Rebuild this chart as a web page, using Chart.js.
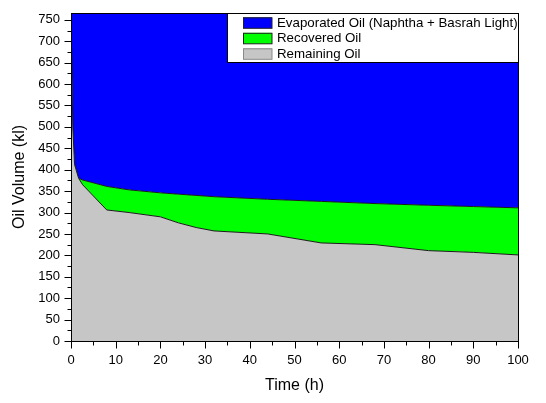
<!DOCTYPE html>
<html>
<head>
<meta charset="utf-8">
<script src="https://cdn.jsdelivr.net/npm/chart.js@4.4.1/dist/chart.umd.min.js"></script>
<style>
  html, body { margin: 0; padding: 0; background: #fff; }
  #wrap { width: 546px; height: 403px; }
</style>
</head>
<body>
<div id="wrap"><canvas id="oilChart" width="546" height="403"></canvas></div>
<script>
// values
const times      = [0, 0.4, 0.8, 1.7, 2.6, 8, 13, 20, 24, 28, 32, 44, 56, 68, 80, 90, 100];
const remaining  = [766, 500, 412, 380, 365, 306, 300, 290, 276, 265, 257, 250, 229, 225, 211, 207, 201];
const recovered  = [0, 0, 0, 0, 11, 55, 53, 56, 67, 75, 80, 81, 97, 96, 106, 107, 110];
const evaporated = [0, 266, 354, 386, 390, 405, 413, 420, 423, 426, 429, 435, 440, 445, 449, 452, 455];

const seriesNames = ["Remaining Oil", "Recovered Oil", "Evaporated Oil (Naphtha + Basrah Light)"];
const xTicks = [0, 10, 20, 30, 40, 50, 60, 70, 80, 90, 100];
const yTicks = [0, 50, 100, 150, 200, 250, 300, 350, 400, 450, 500, 550, 600, 650, 700, 750];
const yMax = 766;

const fillColors = ["#c6c6c6", "#00ff00", "#0000ff"];
const FONT = "'Liberation Sans', Arial, sans-serif";

function points(values) {
  return times.map((t, i) => ({ x: t, y: values[i] }));
}

// frame, outside major/minor ticks and the boxed legend
const decorations = {
  id: "decorations",
  afterDraw(chart) {
    const { ctx, chartArea: a, scales: { x, y } } = chart;
    const L = Math.round(a.left) + 0.5, R = Math.round(a.right) + 0.5;
    const T = Math.round(a.top) + 0.5, B = Math.round(a.bottom) + 0.5;
    ctx.save();
    ctx.strokeStyle = "#000";
    ctx.lineWidth = 1;
    ctx.strokeRect(L, T, R - L, B - T);

    ctx.beginPath();
    for (let v = 0; v <= 750; v += 25) {
      const py = Math.round(y.getPixelForValue(v)) + 0.5;
      ctx.moveTo(L, py);
      ctx.lineTo(L - (v % 50 === 0 ? 7 : 4), py);
    }
    for (let v = 0; v <= 100; v += 5) {
      const px = Math.round(x.getPixelForValue(v)) + 0.5;
      ctx.moveTo(px, B);
      ctx.lineTo(px, B + (v % 10 === 0 ? 7 : 4));
    }
    ctx.stroke();

    // legend
    const boxL = 227.5, boxT = T, boxR = R, boxB = 62.5;
    ctx.fillStyle = "#fff";
    ctx.fillRect(boxL, boxT, boxR - boxL, boxB - boxT);
    ctx.strokeRect(boxL, boxT, boxR - boxL, boxB - boxT);
    ctx.font = "13.3px " + FONT;
    ctx.textBaseline = "middle";
    ctx.textAlign = "left";
    const order = [2, 1, 0];
    order.forEach((di, row) => {
      const cy = 22.8 + row * 15.5;
      ctx.fillStyle = fillColors[di];
      ctx.fillRect(243, cy - 5.5, 29, 11);
      ctx.strokeStyle = di === 0 ? "#8a8a8a" : "#222";
      ctx.strokeRect(243.5, cy - 5, 28.5, 10.5);
      ctx.fillStyle = "#000";
      ctx.fillText(seriesNames[di], 277, cy + 0.5);
    });
    ctx.restore();
  }
};

new Chart(document.getElementById("oilChart").getContext("2d"), {
  type: "line",
  data: {
    datasets: [
      { label: seriesNames[0], data: points(remaining), backgroundColor: fillColors[0],
        borderColor: "#1a1a1a", borderWidth: 1, fill: "origin", pointRadius: 0, tension: 0 },
      { label: seriesNames[1], data: points(recovered), backgroundColor: fillColors[1],
        borderColor: "#1a1a1a", borderWidth: 1, fill: "-1", pointRadius: 0, tension: 0 },
      { label: seriesNames[2], data: points(evaporated), backgroundColor: fillColors[2],
        borderColor: "#000", borderWidth: 1, fill: "-1", pointRadius: 0, tension: 0 }
    ]
  },
  options: {
    responsive: false,
    animation: false,
    layout: { padding: { top: 13, right: 28, left: 0, bottom: 0 } },
    plugins: { legend: { display: false }, tooltip: { enabled: false } },
    scales: {
      x: {
        type: "linear",
        min: 0,
        max: 100,
        grid: { display: false, drawTicks: false },
        border: { display: false },
        afterBuildTicks: s => { s.ticks = xTicks.map(v => ({ value: v })); },
        afterFit: s => { s.height = 62; s.paddingLeft = 0; s.paddingRight = 0; },
        ticks: { padding: 12, color: "#000", font: { family: FONT, size: 13 }, maxRotation: 0, autoSkip: false },
        title: { display: true, text: "Time (h)", color: "#000",
                 font: { family: FONT, size: 16 }, padding: { top: 0, bottom: 8 } }
      },
      y: {
        stacked: true,
        min: 0,
        max: yMax,
        grid: { display: false, drawTicks: false },
        border: { display: false },
        afterBuildTicks: s => { s.ticks = yTicks.map(v => ({ value: v })); },
        afterFit: s => { s.width = 71; s.paddingTop = 0; s.paddingBottom = 0; },
        ticks: { padding: 11, color: "#000", font: { family: FONT, size: 13 }, autoSkip: false },
        title: { display: true, text: "Oil Volume (kl)", color: "#000",
                 font: { family: FONT, size: 16 }, padding: { top: 10, bottom: 0 } }
      }
    }
  },
  plugins: [decorations]
});
</script>
</body>
</html>
